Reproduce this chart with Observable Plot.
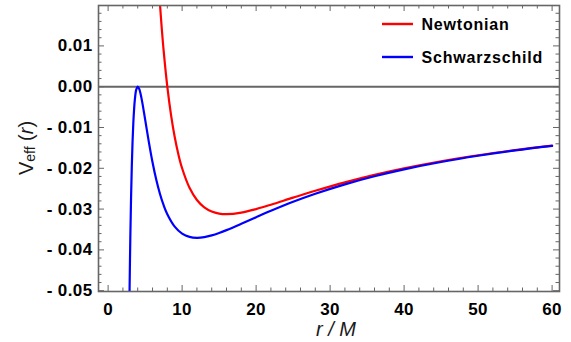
<!DOCTYPE html>
<html>
<head>
<meta charset="utf-8">
<script src="https://cdn.jsdelivr.net/npm/d3@7"></script>
<script src="https://cdn.jsdelivr.net/npm/@observablehq/plot@0.6"></script>
<style>
  body { margin: 0; background: #fff; }
  #chart svg { display: block; }
  #chart svg g[aria-label$="tick label"] text { letter-spacing: 0.4px; }
</style>
</head>
<body>
<div id="chart"></div>
<script>
// Effective potential V_eff(r) for orbits with L = 4M
const seriesNames = ["Newtonian", "Schwarzschild"];
const seriesColors = ["#ff0000", "#0000ff"];

const newtonR = [7, 7.25, 7.5, 8, 8.5, 9, 9.5, 10, 11, 12, 13, 14, 15, 16, 18, 20, 22, 25, 28, 32, 36, 40, 45, 50, 55, 60];
const newtonV = [0.02041, 0.01427, 0.00889, 0, -0.00692, -0.01235, -0.01662, -0.02, -0.02479, -0.02778,
                 -0.02959, -0.03061, -0.03111, -0.03125, -0.03086, -0.03, -0.02893, -0.0272, -0.02551, -0.02344,
                 -0.0216, -0.02, -0.01827, -0.0168, -0.01554, -0.01444];

const schwR = [2.88, 2.9, 3, 3.1, 3.2, 3.3, 3.4, 3.5, 3.6, 3.8, 4, 4.2, 4.5, 5, 5.5, 6, 6.5, 7, 7.5, 8,
               9, 10, 11, 12, 13, 14, 15, 16, 18, 20, 22, 25, 28, 32, 36, 40, 45, 50, 55, 60];
const schwV = [-0.05251, -0.04961, -0.03704, -0.02719, -0.01953, -0.01364, -0.00916, -0.00583, -0.00343, -0.00073,
               0, -0.00054, -0.00274, -0.008, -0.01352, -0.01852, -0.02276, -0.02624, -0.02904, -0.03125,
               -0.03429, -0.036, -0.03681, -0.03704, -0.03687, -0.03644, -0.03585, -0.03516, -0.03361, -0.032,
               -0.03043, -0.02822, -0.02624, -0.02393, -0.02195, -0.02025, -0.01845, -0.01693, -0.01563, -0.01452];

const xMajorTicks = [0, 10, 20, 30, 40, 50, 60];
const xMinorTicks = [2, 4, 6, 8, 12, 14, 16, 18, 22, 24, 26, 28, 32, 34, 36, 38, 42, 44, 46, 48, 52, 54, 56, 58];
const yMajorTicks = [-0.05, -0.04, -0.03, -0.02, -0.01, 0, 0.01];
const yMinorTicks = [-0.048, -0.046, -0.044, -0.042, -0.038, -0.036, -0.034, -0.032, -0.028, -0.026, -0.024, -0.022,
                     -0.018, -0.016, -0.014, -0.012, -0.008, -0.006, -0.004, -0.002, 0.002, 0.004, 0.006, 0.008,
                     0.012, 0.014, 0.016, 0.018];
const zeroLine = [0];

const rows = [
  ...newtonR.map((r, i) => ({series: seriesNames[0], r, v: newtonV[i]})),
  ...schwR.map((r, i) => ({series: seriesNames[1], r, v: schwV[i]}))
];

const W = 571, H = 342;
const mL = 98, mR = 12, mT = 5, mB = 51;
const innerW = W - mL - mR, innerH = H - mT - mB;
const gray = "#666666";
const majorLen = 6, minorLen = 3.5;
const fontFamily = "'Liberation Sans', Arial, sans-serif";

const ticksX = (values, len) => [
  Plot.tickX(values, {x: d => d, stroke: gray, strokeWidth: 1, insetTop: innerH - len}),
  Plot.tickX(values, {x: d => d, stroke: gray, strokeWidth: 1, insetBottom: innerH - len})
];
const ticksY = (values, len) => [
  Plot.tickY(values, {y: d => d, stroke: gray, strokeWidth: 1, insetRight: innerW - len}),
  Plot.tickY(values, {y: d => d, stroke: gray, strokeWidth: 1, insetLeft: innerW - len})
];

const fmtY = d => d < 0 ? "- " + Math.abs(d).toFixed(2) : d.toFixed(2);

const svg = Plot.plot({
  width: W,
  height: H,
  marginLeft: mL,
  marginRight: mR,
  marginTop: mT,
  marginBottom: mB,
  style: {fontFamily, background: "#fff", color: "#000"},
  x: {domain: [-1.3, 61]},
  y: {domain: [-0.0502, 0.0199]},
  color: {domain: seriesNames, range: seriesColors},
  marks: [
    Plot.axisX({ticks: xMajorTicks, tickSize: 0, tickPadding: 11, tickFormat: d => String(d),
                fontSize: 17, fontWeight: "bold", fill: "#000", label: null}),
    Plot.axisY({ticks: yMajorTicks, tickSize: 0, tickPadding: 6, tickFormat: fmtY,
                fontSize: 17, fontWeight: "bold", fill: "#000", label: null}),
    Plot.ruleY(zeroLine, {y: d => d, stroke: gray, strokeWidth: 2}),
    Plot.line(rows, {x: "r", y: "v", z: "series", stroke: "series", strokeWidth: 2.2,
                     curve: "catmull-rom", clip: true}),
    ...ticksX(xMajorTicks, majorLen),
    ...ticksX(xMinorTicks, minorLen),
    ...ticksY(yMajorTicks, majorLen),
    ...ticksY(yMinorTicks, minorLen),
    Plot.frame({stroke: gray, strokeWidth: 1.6})
  ]
});

const root = d3.select(svg);

// Axis titles
const yTitle = root.append("text")
  .attr("transform", "translate(33,148) rotate(-90)")
  .attr("text-anchor", "middle")
  .attr("font-family", fontFamily)
  .attr("font-size", 20)
  .attr("fill", "#1a1a1a");
yTitle.append("tspan").text("V");
yTitle.append("tspan").attr("font-size", 14).attr("dy", 1.5).text("eff");
yTitle.append("tspan").attr("dy", -1.5).text(" (");
yTitle.append("tspan").attr("font-style", "italic").text("r");
yTitle.append("tspan").text(")");

root.append("text")
  .attr("x", 336)
  .attr("y", 336)
  .attr("text-anchor", "middle")
  .attr("font-family", fontFamily)
  .attr("font-size", 20)
  .attr("font-style", "italic")
  .attr("fill", "#1a1a1a")
  .text("r / M");

// Legend
const legend = root.append("g")
  .attr("font-family", fontFamily)
  .attr("font-size", 16)
  .attr("font-weight", "bold")
  .attr("text-anchor", "start");
seriesNames.forEach((name, i) => {
  const y = 24 + i * 33;
  legend.append("line")
    .attr("x1", 382).attr("x2", 413)
    .attr("y1", y).attr("y2", y)
    .attr("stroke", seriesColors[i])
    .attr("stroke-width", 2.4);
  legend.append("text")
    .attr("x", 421.5)
    .attr("y", y + 5.6)
    .attr("text-anchor", "start")
    .attr("letter-spacing", "0.8px")
    .attr("fill", "#000")
    .text(name);
});

document.getElementById("chart").appendChild(svg);
</script>
</body>
</html>
